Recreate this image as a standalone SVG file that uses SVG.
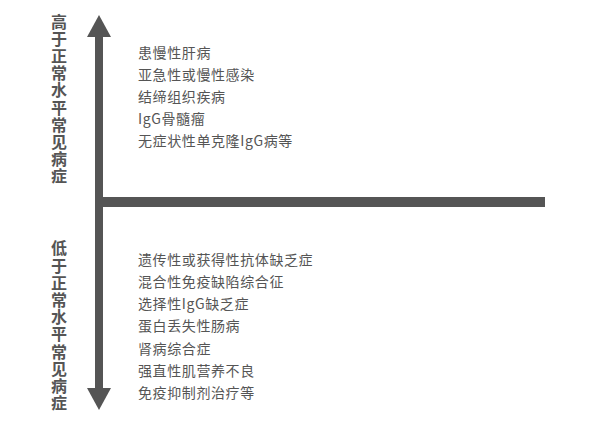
<svg xmlns="http://www.w3.org/2000/svg" width="596" height="446" viewBox="0 0 596 446">
<style>
.lab{font-family:"Noto Sans CJK SC","Noto Sans",sans-serif;font-size:16px;font-weight:bold;fill:#555;writing-mode:vertical-rl;letter-spacing:1.2px}
.item{font-family:"Noto Sans CJK SC","Noto Sans",sans-serif;font-size:14px;fill:#555;letter-spacing:0.6px}
.ax{fill:#555}
</style>
<rect width="596" height="446" fill="#fff"/>
<g id="connectors">
<rect class="ax" x="95" y="36" width="8" height="354"/>
<polygon class="ax" points="99,15 111,37 87,37"/>
<polygon class="ax" points="99,410 111,388 87,388"/>
<rect class="ax" x="95" y="197" width="450" height="10"/>
</g>
<g id="label-high">
<text class="lab" x="59" y="13.5">高于正常水平常见病症</text>
</g>
<g id="label-low">
<text class="lab" x="59" y="240.3">低于正常水平常见病症</text>
</g>
<g id="list-high">
<text class="item" x="138" y="58">患慢性肝病</text>
<text class="item" x="138" y="80">亚急性或慢性感染</text>
<text class="item" x="138" y="102">结缔组织疾病</text>
<text class="item" x="138" y="124">IgG骨髓瘤</text>
<text class="item" x="138" y="146">无症状性单克隆IgG病等</text>
</g>
<g id="list-low">
<text class="item" x="138" y="264.5">遗传性或获得性抗体缺乏症</text>
<text class="item" x="138" y="286.8">混合性免疫缺陷综合征</text>
<text class="item" x="138" y="309.1">选择性IgG缺乏症</text>
<text class="item" x="138" y="331.4">蛋白丢失性肠病</text>
<text class="item" x="138" y="353.7">肾病综合症</text>
<text class="item" x="138" y="376">强直性肌营养不良</text>
<text class="item" x="138" y="398.3">免疫抑制剂治疗等</text>
</g>
</svg>
